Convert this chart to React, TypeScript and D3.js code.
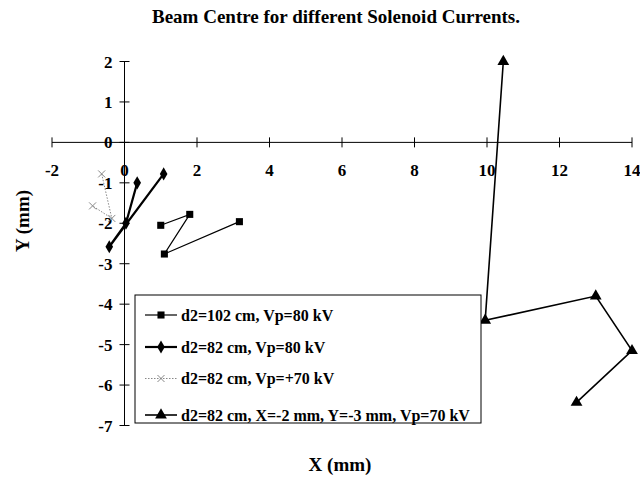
import * as d3 from 'd3';

// tick values
const xTicks = [-2, 0, 2, 4, 6, 8, 10, 12, 14];
const yTicks = [2, 1, 0, -1, -2, -3, -4, -5, -6, -7];

// series (X mm, Y mm), in drawing order
const s102x = [1.0, 1.8, 1.1, 3.17];
const s102y = [-2.05, -1.78, -2.76, -1.96];

const s82x = [0.35, 0.04, -0.42, 1.08];
const s82y = [-1.0, -2.0, -2.58, -0.78];

const s70x = [-0.63, -0.35, -0.88];
const s70y = [-0.78, -1.88, -1.57];

const sOffx = [10.45, 9.95, 13.0, 14.0, 12.47];
const sOffy = [2.0, -4.4, -3.8, -5.15, -6.43];

const labels = [
  'd2=102 cm, Vp=80 kV',
  'd2=82 cm, Vp=80 kV',
  'd2=82 cm, Vp=+70 kV',
  'd2=82 cm, X=-2 mm, Y=-3 mm, Vp=70 kV',
];

const W = 640, H = 477;
const font = '"Liberation Serif", "Times New Roman", serif';

const x = d3.scaleLinear().domain([-2, 14]).range([52, 632]);
const y = d3.scaleLinear().domain([-7, 2]).range([425.5, 61.5]);

const zip = (xs: number[], ys: number[]) => xs.map((v, i) => [v, ys[i]] as [number, number]);

const line = d3.line<[number, number]>().x(d => x(d[0])).y(d => y(d[1]));

const series = [
  { pts: zip(s102x, s102y), width: 1.2, dash: undefined, color: '#000', sym: d3.symbolSquare, size: 50 },
  { pts: zip(s82x, s82y), width: 2.2, dash: undefined, color: '#000', sym: d3.symbolDiamond, size: 50 },
  { pts: zip(s70x, s70y), width: 1, dash: '1.5,1.5', color: '#888', sym: null, size: 0 },
  { pts: zip(sOffx, sOffy), width: 1.6, dash: undefined, color: '#000', sym: d3.symbolTriangle, size: 60 },
];

function Marker({ s, cx, cy }: { s: any; cx: number; cy: number }) {
  if (!s.sym) {
    const r = 3.5;
    return (
      <g stroke={s.color} strokeWidth={1}>
        <line x1={cx - r} y1={cy - r} x2={cx + r} y2={cy + r} />
        <line x1={cx - r} y1={cy + r} x2={cx + r} y2={cy - r} />
      </g>
    );
  }
  const p = d3.symbol().type(s.sym).size(s.size)()!;
  return <path d={p} transform={`translate(${cx},${cy})`} fill={s.color} />;
}

export default function App() {
  const x0 = x(0), y0 = y(0);
  const lg = { x: 135, y: 295, w: 346, h: 128 };
  const rowY = [315, 347, 378.5, 415];
  return (
    <svg width={W} height={H} style={{ position: 'absolute', left: 0, top: 0, background: '#fff' }}
      fontFamily={font} fontWeight="bold">
      <rect width={W} height={H} fill="#fff" />
      <text x={336} y={23} textAnchor="middle" fontSize={19}>Beam Centre for different Solenoid Currents.</text>

      {/* axes through the origin */}
      <line x1={x(-2)} x2={x(14)} y1={y0} y2={y0} stroke="#000" strokeWidth={1} />
      <line x1={x0} x2={x0} y1={y(2)} y2={y(-7)} stroke="#000" strokeWidth={1} />
      {xTicks.map(t => (
        <g key={'x' + t}>
          <line x1={x(t)} x2={x(t)} y1={y0 - 5} y2={y0 + 5} stroke="#000" />
          <text x={x(t)} y={y0 + 34} textAnchor="middle" fontSize={17}>{t}</text>
        </g>
      ))}
      {yTicks.map(t => (
        <g key={'y' + t}>
          <line x1={x0 - 5} x2={x0 + 5} y1={y(t)} y2={y(t)} stroke="#000" />
          <text x={x0 - 12} y={y(t) + 6} textAnchor="end" fontSize={17}>{t}</text>
        </g>
      ))}

      {series.map((s, i) => (
        <g key={'s' + i}>
          <path d={line(s.pts)!} fill="none" stroke={s.color} strokeWidth={s.width} strokeDasharray={s.dash} />
          {s.pts.map((p, j) => <Marker key={j} s={s} cx={x(p[0])} cy={y(p[1])} />)}
        </g>
      ))}

      <text x={340} y={471} textAnchor="middle" fontSize={19}>X (mm)</text>
      <text transform={`translate(29,221) rotate(-90)`} textAnchor="middle" fontSize={19}>Y (mm)</text>

      {/* legend */}
      <rect x={lg.x} y={lg.y} width={lg.w} height={lg.h} fill="#fff" stroke="#000" strokeWidth={1} />
      {series.map((s, i) => (
        <g key={'l' + i}>
          <line x1={145} x2={177} y1={rowY[i]} y2={rowY[i]} stroke={s.color} strokeWidth={s.width} strokeDasharray={s.dash} />
          <Marker s={s} cx={161} cy={rowY[i]} />
          <text x={181} y={rowY[i] + 5.5} fontSize={16}>{labels[i]}</text>
        </g>
      ))}
    </svg>
  );
}
